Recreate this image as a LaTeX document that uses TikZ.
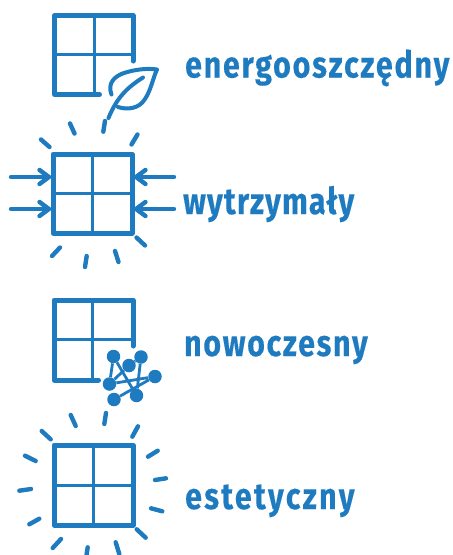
\documentclass[tikz,border=0pt]{standalone}
\usepackage{fontspec}
\setmainfont{Fira Sans}
\newfontfamily\lsa[LetterSpace=6,BoldFeatures={LetterSpace=6,FakeBold=0.4}]{Fira Sans}
\newfontfamily\lsb[LetterSpace=4,BoldFeatures={LetterSpace=4,FakeBold=0.4}]{Fira Sans}
\newfontfamily\lsc[LetterSpace=5.6,BoldFeatures={LetterSpace=5.6,FakeBold=0.4}]{Fira Sans}
\newfontfamily\lsd[LetterSpace=7.9,BoldFeatures={LetterSpace=7.9,FakeBold=0.4}]{Fira Sans}
\definecolor{wblue}{HTML}{1F7BC0}
\tikzset{
  frame/.style={draw=wblue,line width=5pt,line join=round,line cap=round},
  bar/.style={draw=wblue,line width=3pt},
  tick/.style={draw=wblue,line width=4.4pt,line cap=round},
  leafline/.style={draw=wblue,line width=4pt,line cap=round,line join=round},
  pointer/.style={draw=wblue,line width=4.4pt,line cap=round,line join=round},
  dot/.style={circle,fill=wblue,inner sep=0pt,minimum size=13.5pt},
  link/.style={draw=wblue,line width=2.8pt},
  label/.style={text=wblue,anchor=base west,inner sep=0pt,xscale=0.82}
}
\newcommand{\lblsize}{\bfseries\fontsize{37}{37}\selectfont}
\begin{document}
\begin{tikzpicture}[x=1pt,y=-1pt]
\useasboundingbox (0,0) rectangle (453,555);
% window 1
\draw[frame] (133,61) -- (133,15.5) -- (54.5,15.5) -- (54.5,94.5) -- (99.5,94.5);
\draw[bar] (94,15.5) -- (94,94.5);
\draw[bar] (54.5,54.5) -- (133,54.5);
% leaf
\draw[leafline] (111.5,94.5) .. controls (107,83) and (115,76) .. (124,73) .. controls (135,69.5) and (147,68) .. (157,69.5)
  .. controls (153,78) and (151,90) .. (145,99) .. controls (139,109) and (127,110) .. (118,107);
\draw[leafline] (143,77.5) .. controls (128,87) and (117,97) .. (108.5,118);
% window 2
\draw[frame] (53,154) rectangle (132,233);
\draw[bar] (92.5,154) -- (92.5,233);
\draw[bar] (53,193.5) -- (132,193.5);
\foreach \a/\b/\c/\d in {70/123.5/74.5/133.5, 105/121/103.3/131.7, 137.5/134.5/131.5/144.5, 41/139.5/49.5/147,
  136.5/237.5/145/245.5, 60/247.5/52/256, 86.7/256/85/267, 115/251/118.5/262}
  \draw[tick] (\a,\b) -- (\c,\d);
\foreach \y in {177,209}{
  \draw[pointer] (11,\y) -- (49,\y);
  \draw[pointer] (39.5,\y-7) -- (49,\y) -- (39.5,\y+7);
  \draw[pointer] (174,\y) -- (136,\y);
  \draw[pointer] (145.5,\y-7) -- (136,\y) -- (145.5,\y+7);
}
% window 3
\draw[frame] (133,346) -- (133,300) -- (54,300) -- (54,380) -- (98.5,380);
\draw[bar] (92.7,300) -- (92.7,380);
\draw[bar] (54,339.3) -- (133,339.3);
% network
\node[dot] (na) at (113.5,356.5) {};
\node[dot] (nb) at (141,357) {};
\node[dot] (nc) at (129,365.5) {};
\node[dot] (nd) at (155,376.5) {};
\node[dot] (ne) at (109.5,384) {};
\node[dot] (nf) at (136.5,395.5) {};
\node[dot] (ng) at (114,399.5) {};
\draw[link] (na) -- (ne) (na) -- (nf) (nb) -- (nc) (nc) -- (ne) (nb) -- (nf) (nd) -- (ng) (nd) -- (ne);
% window 4
\draw[frame] (54,445) rectangle (133,525);
\draw[bar] (93,445) -- (93,525);
\draw[bar] (54,485) -- (133,485);
\foreach \a/\b/\c/\d in {70.7/415/75.7/426, 106/413/104.3/424, 138/426.3/132.3/436.7, 41.7/431/50.7/439.3,
  25/455.7/35.7/461, 157.7/450.7/148/456.7, 155/480/166/478.3, 19.3/490.7/31/489,
  151/508.3/162.3/511.3, 39.3/518.7/29.3/524.3, 136.7/529.3/145.7/537.7, 61/539/52.7/548, 87.7/547.3/86/558.3, 115.7/542.3/119.3/554}
  \draw[tick] (\a,\b) -- (\c,\d);
% labels
\node[label] (t1) at (185,77.5) {\lsa\lblsize energooszczędny};
\node[label] (t2) at (183,214) {\lsb\lblsize wytrzymały};
\node[label] (t3) at (184,356) {\lsc\lblsize nowoczesny};
\node[label] (t4) at (185,509) {\lsd\lblsize estetyczny};
\end{tikzpicture}
\end{document}
